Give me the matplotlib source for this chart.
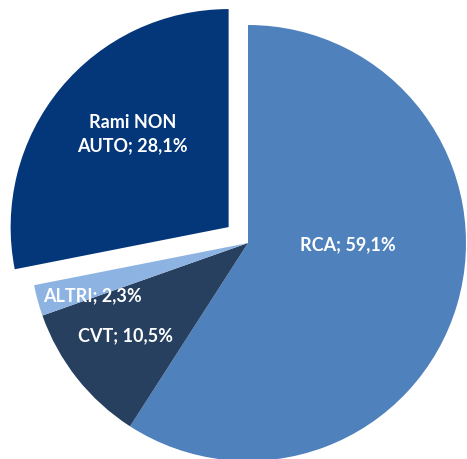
import matplotlib
matplotlib.use('Agg')
import matplotlib.pyplot as plt

categories = ['RCA', 'CVT', 'ALTRI', 'Rami NON\nAUTO']
shares = [59.1, 10.5, 2.3, 28.1]
colors = ['#4F81BD', '#27405F', '#8DB3E2', '#04367A']
explode = [0, 0, 0, 0.115]

# label positions (pie units), Excel "best fit" placement
label_pos = [(0.46, -0.01), (-0.56, -0.425), (-0.715, -0.24), (-0.53, 0.5)]

fig = plt.figure(figsize=(4.67, 4.59), dpi=100)
ax = fig.add_axes([0, 0, 1, 1])

ax.pie(shares, colors=colors, explode=explode, startangle=90,
       counterclock=False, radius=1.0, wedgeprops=dict(linewidth=0))

for name, val, (x, y) in zip(categories, shares, label_pos):
    txt = '%s; %s%%' % (name, ('%.1f' % val).replace('.', ','))
    ax.text(x, y, txt, ha='center', va='center', color='white',
            fontsize=13, fontweight='bold', family='Lato', linespacing=1.4)

ax.set_xlim(-248 / 218, (467 - 248) / 218)
ax.set_ylim(-(459 - 243) / 218, 243 / 218)
ax.set_aspect('auto')
ax.axis('off')

fig.savefig('out.png', dpi=100, facecolor='white')
